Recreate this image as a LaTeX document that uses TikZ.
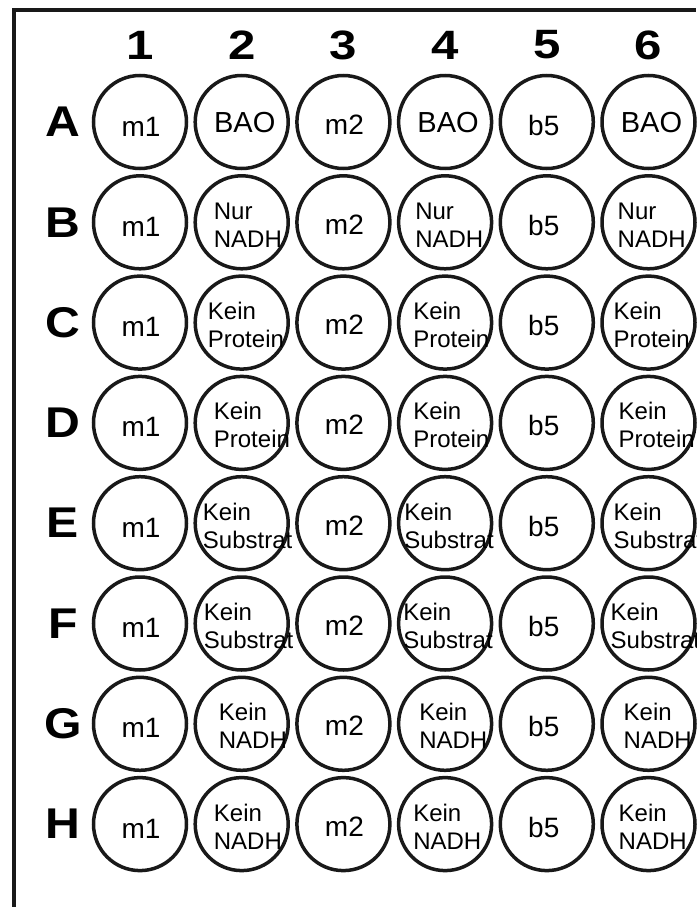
\documentclass[tikz,border=0pt]{standalone}
\usepackage{fontspec}
\setmainfont{Liberation Sans}
\usetikzlibrary{positioning}

\begin{document}
\begin{tikzpicture}[x=1pt, y=-1pt,
  well/.style={circle, draw=black!90, line width=3.5pt, minimum size=93pt, inner sep=0pt},
  hdr/.style={font=\fontsize{41}{41}\selectfont\bfseries, inner sep=0pt},
  one/.style={font=\fontsize{28}{28}\selectfont, inner sep=0pt, anchor=base},
  two/.style={font=\fontsize{24}{24}\selectfont, inner sep=0pt, anchor=base west},
]
\useasboundingbox (0,0) rectangle (696,907);
\def\cx#1{140+101.7*(#1-1)}
\def\cy#1{122+100.3*(#1-1)}

% frame
\draw[line width=4pt, black!90] (14,907) -- (14,10) -- (696,10);

% column numbers
\foreach \c in {1,...,6}
  \node[hdr] (col\c) at ({\cx{\c}},45) {\scalebox{1.2}[1]{\c}};

% rows of wells
\foreach \r [count=\i] in {A,B,C,D,E,F,G,H} {
  \node[hdr, font=\fontsize{43}{43}\selectfont\bfseries] (row\r) at (63,{\cy{\i}}) {\scalebox{1.12}[1]{\r}};
  \foreach \c in {1,...,6}
    \node[well] (w\r\c) at ({\cx{\c}},{\cy{\i}}) {};
  \node[one] (lab\r1) at ({\cx{1}+1},{\cy{\i}+14}) {m1};
  \node[one] (lab\r3) at ({\cx{3}+1},{\cy{\i}+12}) {m2};
  \node[one] (lab\r5) at ({\cx{5}-3},{\cy{\i}+13}) {b5};
}

% row A controls
\foreach \c in {2,4,6}
  \node[one, font=\fontsize{29}{29}\selectfont] (labA\c) at ({\cx{\c}+3},{\cy{1}+10}) {BAO};

% two-line labels in columns 2, 4, 6
\foreach \r/\i/\ta/\tb/\da/\db/\dc in {
    B/2/Nur/NADH/-28/-30/-31,
    C/3/Kein/Protein/-34/-32/-35,
    D/4/Kein/Protein/-28/-32/-30,
    E/5/Kein/Substrat/-39/-41/-35,
    F/6/Kein/Substrat/-38/-42/-38,
    G/7/Kein/NADH/-23/-26/-25,
    H/8/Kein/NADH/-28/-32/-30}
  \foreach \c/\d in {2/\da,4/\db,6/\dc} {
    \node[two] (lab\r\c) at ({\cx{\c}+\d},{\cy{\i}-3}) {\ta};
    \node[two] (sub\r\c) at ({\cx{\c}+\d},{\cy{\i}+25}) {\tb};
  }
\end{tikzpicture}
\end{document}
